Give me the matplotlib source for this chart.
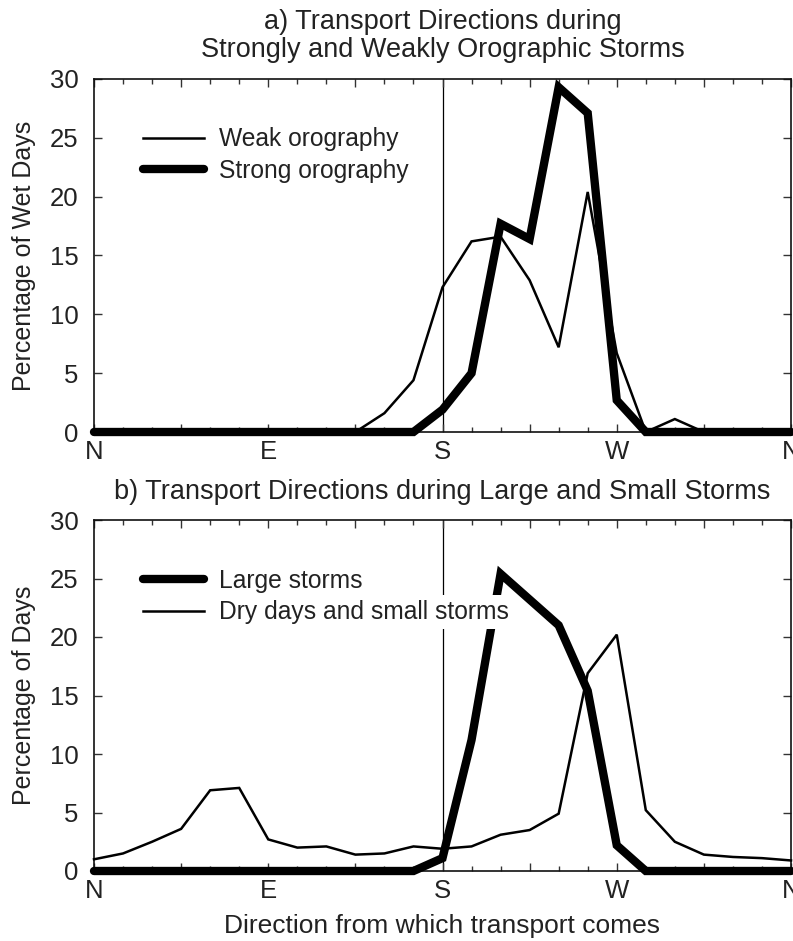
import numpy as np
import matplotlib
matplotlib.use("Agg")
import matplotlib.pyplot as plt
from matplotlib.ticker import MultipleLocator

plt.rcParams['font.family'] = ['Liberation Sans', 'DejaVu Sans']

# Direction bins (degrees, 15° steps from N through E, S, W back to N)
directions = np.arange(0, 361, 15)

weak_orography = [0, 0, 0, 0, 0, 0, 0, 0, 0, 0, 1.6, 4.4, 12.3, 16.2, 16.6,
                  12.9, 7.2, 20.4, 6.7, 0, 1.1, 0, 0, 0, 0]
strong_orography = [0, 0, 0, 0, 0, 0, 0, 0, 0, 0, 0, 0, 1.9, 5.0, 17.7,
                    16.4, 29.3, 27.1, 2.7, 0, 0, 0, 0, 0, 0]

large_storms = [0, 0, 0, 0, 0, 0, 0, 0, 0, 0, 0, 0, 1.1, 11.2, 25.4,
                23.2, 21.0, 15.4, 2.2, 0, 0, 0, 0, 0, 0]
dry_small = [1.0, 1.5, 2.5, 3.6, 6.9, 7.1, 2.7, 2.0, 2.1, 1.4, 1.5, 2.1, 1.9,
             2.1, 3.1, 3.5, 4.9, 16.9, 20.2, 5.2, 2.5, 1.4, 1.2, 1.1, 0.9]

xtick_pos = [0, 90, 180, 270, 360]
xtick_labels = ['N', 'E', 'S', 'W', 'N']

W, H = 793, 941
fig = plt.figure(figsize=(W / 100, H / 100), dpi=100)

def frac(l, t, r, b):
    return [l / W, 1 - b / H, (r - l) / W, (b - t) / H]

ax1 = fig.add_axes(frac(94, 79, 791, 432))
ax2 = fig.add_axes(frac(94, 520, 791, 871))

TXT = '#222222'
TICKFS = 18.5
LEGFS = 17.7
TITLEFS = 19.5
thin = 1.8
thick = 6.0

def style(ax):
    ax.set_xlim(0, 360)
    ax.set_ylim(0, 30)
    ax.set_yticks(np.arange(0, 31, 5))
    ticks = np.arange(0, 361, 45)
    labels = [xtick_labels[xtick_pos.index(v)] if v in xtick_pos else ''
              for v in ticks]
    ax.set_xticks(ticks)
    ax.set_xticklabels(labels)
    ax.xaxis.set_minor_locator(MultipleLocator(15))
    ax.tick_params(axis='both', which='major', direction='in', length=6,
                   width=1.0, top=True, right=True, labelsize=TICKFS,
                   color='#333333', labelcolor=TXT)
    ax.tick_params(axis='both', which='minor', direction='in', length=3.5,
                   width=1.0, top=True, right=True, color='#333333')
    ax.tick_params(axis='x', which='major', pad=6)
    ax.tick_params(axis='y', which='major', pad=11)
    for s in ax.spines.values():
        s.set_linewidth(1.2)
        s.set_color('#111111')
    ax.axvline(180, color='black', lw=0.9, zorder=1)

style(ax1)
style(ax2)

l1, = ax1.plot(directions, weak_orography, color='black', lw=thin,
               solid_joinstyle='miter', clip_on=False, zorder=3,
               label='Weak orography')
l2, = ax1.plot(directions, strong_orography, color='black', lw=thick,
               solid_joinstyle='miter', solid_capstyle='round',
               clip_on=False, zorder=4, label='Strong orography')
leg1 = ax1.legend(handles=[l1, l2], loc='upper left',
                  bbox_to_anchor=(0.045, 0.912), fontsize=LEGFS, frameon=False,
                  handlelength=2.5, handletextpad=0.6, labelspacing=0.3,
                  borderpad=0.2)
for t in leg1.get_texts():
    t.set_color(TXT)

l3, = ax2.plot(directions, large_storms, color='black', lw=thick,
               solid_joinstyle='miter', solid_capstyle='round',
               clip_on=False, zorder=4, label='Large storms')
l4, = ax2.plot(directions, dry_small, color='black', lw=thin,
               solid_joinstyle='miter', clip_on=False, zorder=3,
               label='Dry days and small storms')
leg2 = ax2.legend(handles=[l3, l4], loc='upper left',
                  bbox_to_anchor=(0.045, 0.91), fontsize=LEGFS, frameon=False,
                  handlelength=2.5, handletextpad=0.6, labelspacing=0.3,
                  borderpad=0.2)
leg2.set_zorder(10)
for t in leg2.get_texts():
    t.set_color(TXT)
leg2.get_texts()[1].set_bbox(dict(facecolor='white', edgecolor='none', pad=3.5))

ax1.set_title('a) Transport Directions during\nStrongly and Weakly Orographic Storms',
              fontsize=TITLEFS, pad=16, color=TXT, linespacing=1.1)
ax2.set_title('b) Transport Directions during Large and Small Storms',
              fontsize=TITLEFS, pad=15, color=TXT)
ax1.set_ylabel('Percentage of Wet Days', fontsize=18, color=TXT, labelpad=10)
ax2.set_ylabel('Percentage of Days', fontsize=18, color=TXT, labelpad=10)
ax2.set_xlabel('Direction from which transport comes', fontsize=19,
               color=TXT, labelpad=8)

fig.savefig('out.png', dpi=100)
